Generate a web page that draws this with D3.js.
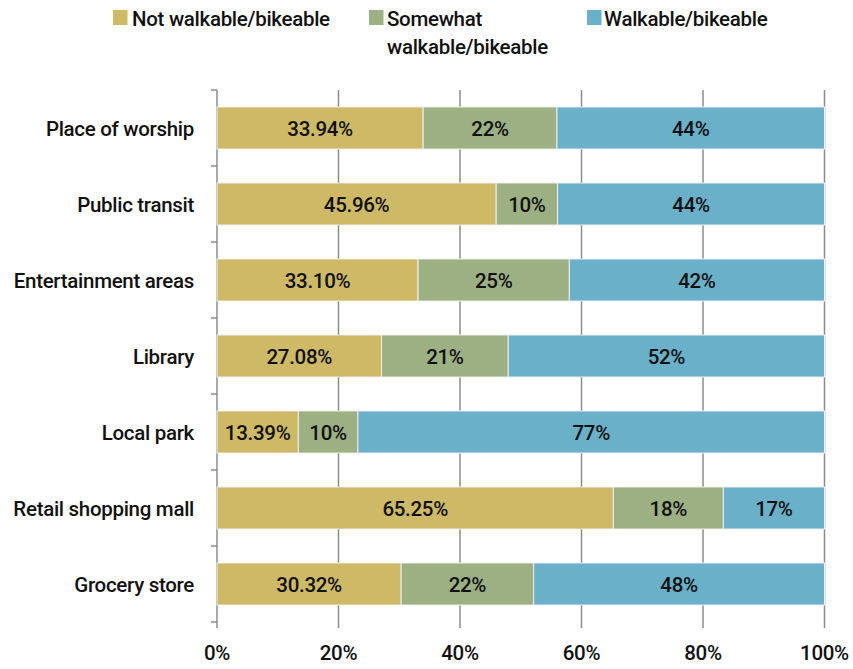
<!DOCTYPE html>
<html>
<head>
<meta charset="utf-8">
<script src="https://cdn.jsdelivr.net/npm/d3@7"></script>
<style>
  html, body { margin: 0; padding: 0; background: #fff; }
  svg text { font-family: Roboto, "Liberation Sans", sans-serif; font-weight: 500; fill: #111; letter-spacing: -0.3px; }
</style>
</head>
<body>
<svg id="chart" width="853" height="669"></svg>
<script>
// Destination types, top to bottom
const categories = [
  "Place of worship",
  "Public transit",
  "Entertainment areas",
  "Library",
  "Local park",
  "Retail shopping mall",
  "Grocery store"
];

// Share of respondents (%) per walkability rating
const notWalkable      = [33.94, 45.96, 33.10, 27.08, 13.39, 65.25, 30.32];
const somewhatWalkable = [22.02, 10.10, 24.90, 20.87,  9.80, 18.10, 21.80];
const walkable         = [44.04, 43.94, 42.00, 52.05, 76.81, 16.65, 47.88];

// Label text shown on each segment
const notWalkableLabels      = ["33.94%", "45.96%", "33.10%", "27.08%", "13.39%", "65.25%", "30.32%"];
const somewhatWalkableLabels = ["22%", "10%", "25%", "21%", "10%", "18%", "22%"];
const walkableLabels         = ["44%", "44%", "42%", "52%", "77%", "17%", "48%"];

const seriesNames = ["Not walkable/bikeable", "Somewhat walkable/bikeable", "Walkable/bikeable"];
const seriesColors = ["#CEB967", "#9DB083", "#6AB0C9"];
const xTicks = [0, 20, 40, 60, 80, 100];

const fontSize = 20.5;
const svg = d3.select("#chart");
const plotLeft = 217, plotRight = 824.5, plotTop = 90, plotBottom = 622;

const x = d3.scaleLinear().domain([0, 100]).range([plotLeft, plotRight]);
const y = d3.scaleBand().domain(categories).range([plotTop, plotBottom])
  .paddingInner(0.447).paddingOuter(0.2235);

const rows = categories.map((c, i) => ({
  category: c,
  s0: notWalkable[i], s1: somewhatWalkable[i], s2: walkable[i],
  l0: notWalkableLabels[i], l1: somewhatWalkableLabels[i], l2: walkableLabels[i]
}));
const keys = ["s0", "s1", "s2"];
const stacked = d3.stack().keys(keys)(rows);

// Vertical gridlines, extending below the plot as tick marks
svg.append("g").selectAll("line").data(xTicks.slice(1)).join("line")
  .attr("x1", d => x(d)).attr("x2", d => x(d))
  .attr("y1", plotTop).attr("y2", plotBottom + 6)
  .attr("stroke", "#8c8c8c").attr("stroke-width", 1.5);

// Category axis line and separator ticks
svg.append("line")
  .attr("x1", x(0)).attr("x2", x(0)).attr("y1", plotTop).attr("y2", plotBottom + 6)
  .attr("stroke", "#8c8c8c").attr("stroke-width", 1.5);
const step = y.step();
const sepPositions = d3.range(categories.length + 1).map(i => plotTop + i * step);
svg.append("g").selectAll("line").data(sepPositions).join("line")
  .attr("x1", x(0) - 6).attr("x2", x(0))
  .attr("y1", d => d).attr("y2", d => d)
  .attr("stroke", "#8c8c8c").attr("stroke-width", 1.5);

// Stacked bar segments
const layers = svg.append("g").selectAll("g").data(stacked).join("g")
  .attr("fill", (d, i) => seriesColors[i]);
layers.selectAll("rect").data(d => d).join("rect")
  .attr("x", d => x(d[0]))
  .attr("width", d => x(d[1]) - x(d[0]))
  .attr("y", d => y(d.data.category))
  .attr("height", y.bandwidth())
  .attr("stroke", "#eeeeee").attr("stroke-width", 1);

// Segment value labels
const labelKeys = ["l0", "l1", "l2"];
svg.append("g").selectAll("g").data(stacked).join("g")
  .each(function(layer, li) {
    d3.select(this).selectAll("text").data(layer).join("text")
      .attr("x", d => (x(d[0]) + x(d[1])) / 2)
      .attr("y", d => y(d.data.category) + y.bandwidth() / 2)
      .attr("dy", "0.37em")
      .attr("text-anchor", "middle")
      .attr("font-size", fontSize)
      .text(d => d.data[labelKeys[li]]);
  });

// Category labels
svg.append("g").selectAll("text").data(categories).join("text")
  .attr("x", 194)
  .attr("y", d => y(d) + y.bandwidth() / 2)
  .attr("dy", "0.37em")
  .attr("text-anchor", "end")
  .attr("font-size", fontSize)
  .text(d => d);

// Percentage axis labels
svg.append("g").selectAll("text").data(xTicks).join("text")
  .attr("x", d => x(d))
  .attr("y", 660)
  .attr("text-anchor", "middle")
  .attr("font-size", fontSize)
  .text(d => d + "%");

// Legend
const legendItems = [
  { lines: ["Not walkable/bikeable"], sx: 113, tx: 132 },
  { lines: ["Somewhat", "walkable/bikeable"], sx: 369, tx: 387 },
  { lines: ["Walkable/bikeable"], sx: 587, tx: 604 }
];
const legend = svg.append("g");
legendItems.forEach((item, i) => {
  legend.append("rect")
    .attr("x", item.sx).attr("y", 10).attr("width", 14.5).attr("height", 15)
    .attr("fill", seriesColors[i]);
  const t = legend.append("text")
    .attr("x", item.tx).attr("y", 26).attr("font-size", fontSize);
  item.lines.forEach((ln, j) => {
    t.append("tspan").attr("x", item.tx).attr("dy", j === 0 ? 0 : 28).text(ln);
  });
});
</script>
</body>
</html>
